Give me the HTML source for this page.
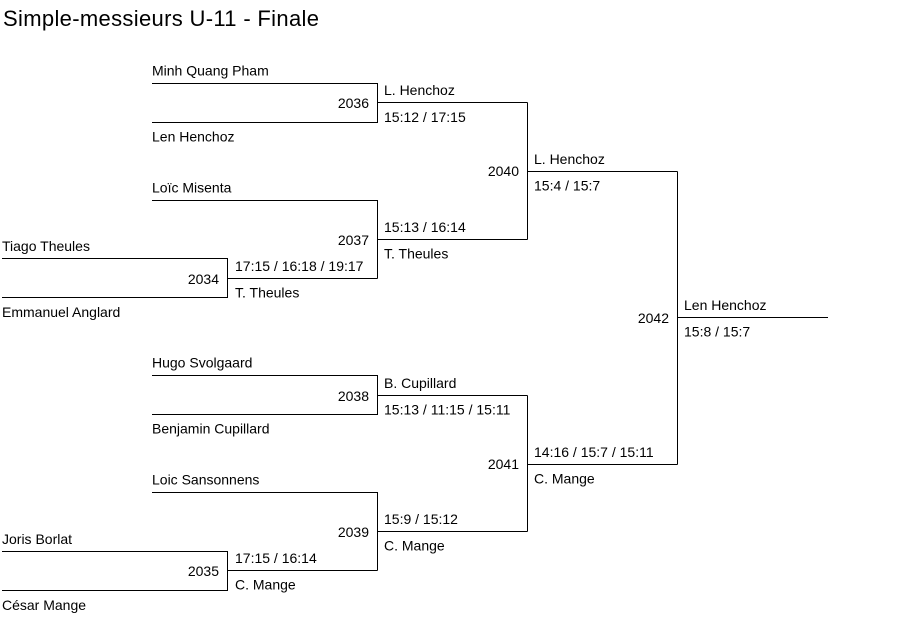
<!DOCTYPE html>
<html>
<head>
<meta charset="utf-8">
<style>
html,body{margin:0;padding:0;background:#fff;}
svg{display:block;}
text{font-family:"Liberation Sans",Arial,sans-serif;font-size:14px;fill:#000;}
.t{font-size:22px;}
.n{text-anchor:end;}
</style>
</head>
<body>
<svg width="903" height="621" viewBox="0 0 903 621" xmlns="http://www.w3.org/2000/svg">
<rect width="903" height="621" fill="#fff"/>
<text class="t" x="3" y="26" textLength="316" lengthAdjust="spacing">Simple-messieurs U-11 - Finale</text>

<g stroke="#000" stroke-width="1" fill="none" shape-rendering="crispEdges">
<path d="M152 83.5H377.5V122.5H152"/>
<path d="M377.5 102.5H527.5"/>
<path d="M2 258.5H227.5V297.5H2"/>
<path d="M227.5 278.5H377.5"/>
<path d="M152 200.5H377.5V278.5"/>
<path d="M377.5 239.5H527.5"/>
<path d="M527.5 102.5V239.5"/>
<path d="M527.5 171.5H677.5"/>
<path d="M152 375.5H377.5V414.5H152"/>
<path d="M377.5 395.5H527.5"/>
<path d="M2 551.5H227.5V590.5H2"/>
<path d="M227.5 570.5H377.5"/>
<path d="M152 492.5H377.5V570.5"/>
<path d="M377.5 531.5H527.5"/>
<path d="M527.5 395.5V531.5"/>
<path d="M527.5 464.5H677.5"/>
<path d="M677.5 171.5V464.5"/>
<path d="M677.5 317.5H828"/>
</g>

<text x="2" y="251">Tiago Theules</text>
<text x="2" y="317">Emmanuel Anglard</text>
<text x="2" y="544">Joris Borlat</text>
<text x="2" y="610">César Mange</text>

<text x="152" y="75.5">Minh Quang Pham</text>
<text x="152" y="141.5">Len Henchoz</text>
<text x="152" y="192.5">Loïc Misenta</text>
<text x="152" y="367.5">Hugo Svolgaard</text>
<text x="152" y="433.5">Benjamin Cupillard</text>
<text x="152" y="484.5">Loic Sansonnens</text>

<text x="235" y="271">17:15 / 16:18 / 19:17</text>
<text x="235" y="297.5">T. Theules</text>
<text x="235" y="563">17:15 / 16:14</text>
<text x="235" y="589.5">C. Mange</text>

<text x="384" y="95">L. Henchoz</text>
<text x="384" y="122">15:12 / 17:15</text>
<text x="384" y="232">15:13 / 16:14</text>
<text x="384" y="258.5">T. Theules</text>
<text x="384" y="388">B. Cupillard</text>
<text x="384" y="414.5">15:13 / 11:15 / 15:11</text>
<text x="384" y="524">15:9 / 15:12</text>
<text x="384" y="550.5">C. Mange</text>

<text x="534" y="164">L. Henchoz</text>
<text x="534" y="190.5">15:4 / 15:7</text>
<text x="534" y="457">14:16 / 15:7 / 15:11</text>
<text x="534" y="483.5">C. Mange</text>

<text x="684" y="310">Len Henchoz</text>
<text x="684" y="336.5">15:8 / 15:7</text>

<text class="n" x="369" y="108">2036</text>
<text class="n" x="219" y="284">2034</text>
<text class="n" x="369" y="245">2037</text>
<text class="n" x="519" y="176">2040</text>
<text class="n" x="369" y="401">2038</text>
<text class="n" x="219" y="576">2035</text>
<text class="n" x="369" y="537">2039</text>
<text class="n" x="519" y="469">2041</text>
<text class="n" x="669" y="323">2042</text>
</svg>
</body>
</html>
